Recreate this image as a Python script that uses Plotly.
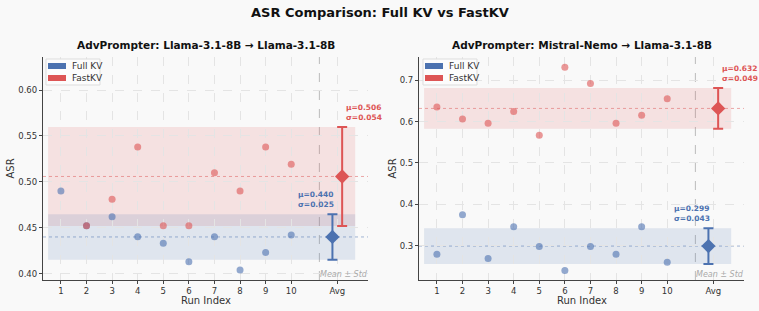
import numpy as np
import plotly.graph_objects as go

runs = list(range(1, 11))
run_labels = [str(r) for r in runs]
avg_label = "Avg"

left_title = "AdvPrompter: Llama-3.1-8B → Llama-3.1-8B"
left_full = [0.490, 0.452, 0.462, 0.440, 0.433, 0.413, 0.440, 0.404, 0.423, 0.442]
left_fast = [0.626, 0.452, 0.481, 0.538, 0.452, 0.452, 0.510, 0.490, 0.538, 0.519]
left_yticks = [0.40, 0.45, 0.50, 0.55, 0.60]

right_title = "AdvPrompter: Mistral-Nemo → Llama-3.1-8B"
right_full = [0.279, 0.375, 0.269, 0.346, 0.298, 0.240, 0.298, 0.279, 0.346, 0.260]
right_fast = [0.635, 0.606, 0.596, 0.624, 0.567, 0.731, 0.692, 0.596, 0.615, 0.655]
right_yticks = [0.3, 0.4, 0.5, 0.6, 0.7]

BLUE = "#4C72B0"
RED = "#DD5555"
BG = "#F9F9F9"
W, H = 759, 311
FONT = "DejaVu Sans"

AVG_X = 11.8
SEP_X = 11.1
OFF = 0.19

fig = go.Figure()

panels = [
    dict(title=left_title, full=left_full, fast=left_fast, yticks=left_yticks,
         yfmt="{:.2f}", yrange=[0.393, 0.636], xa="x", ya="y",
         dom=[43 / W, 368 / W], legx=46),
    dict(title=right_title, full=right_full, fast=right_fast, yticks=right_yticks,
         yfmt="{:.1f}", yrange=[0.217, 0.756], xa="x2", ya="y2",
         dom=[419 / W, 744 / W], legx=423),
]

ydom = [(311 - 280) / H, (311 - 57) / H]
shapes = []
annots = []

for i, p in enumerate(panels):
    xa, ya = p["xa"], p["ya"]
    full = np.array(p["full"]); fast = np.array(p["fast"])
    mf, sf = full.mean(), full.std(ddof=1)
    mk, sk = fast.mean(), fast.std(ddof=1)
    xdref = xa + " domain"
    # bands
    for m, s, c in [(mk, sk, "rgba(221,85,85,0.15)"), (mf, sf, "rgba(76,114,176,0.15)")]:
        shapes.append(dict(type="rect", xref=xa, yref=ya, x0=0.5, x1=12.5, y0=m - s, y1=m + s,
                           fillcolor=c, line=dict(width=0), layer="below"))
    # mean lines
    for m, c in [(mk, "rgba(221,85,85,0.5)"), (mf, "rgba(76,114,176,0.5)")]:
        shapes.append(dict(type="line", xref=xdref, yref=ya, x0=0, x1=1, y0=m, y1=m,
                           line=dict(color=c, width=1, dash="dot"), layer="below"))
    # separator
    shapes.append(dict(type="line", xref=xa, yref=ya + " domain", x0=SEP_X, x1=SEP_X, y0=0, y1=1,
                       line=dict(color="#BBBBBB", width=1, dash="dash"), layer="below"))
    # points
    fig.add_trace(go.Scatter(x=runs, y=p["full"], mode="markers", xaxis=xa, yaxis=ya,
                             marker=dict(color=BLUE, size=7, opacity=0.6, line=dict(width=0)),
                             showlegend=False, cliponaxis=False))
    fig.add_trace(go.Scatter(x=runs, y=p["fast"], mode="markers", xaxis=xa, yaxis=ya,
                             marker=dict(color=RED, size=7, opacity=0.6, line=dict(width=0)),
                             showlegend=False))
    # avg diamonds with error bars
    fig.add_trace(go.Scatter(x=[AVG_X - OFF], y=[mf], mode="markers", xaxis=xa, yaxis=ya,
                             marker=dict(color=BLUE, size=11, symbol="diamond"),
                             error_y=dict(type="data", array=[sf], color=BLUE, thickness=2, width=5),
                             showlegend=False))
    fig.add_trace(go.Scatter(x=[AVG_X + OFF], y=[mk], mode="markers", xaxis=xa, yaxis=ya,
                             marker=dict(color=RED, size=11, symbol="diamond"),
                             error_y=dict(type="data", array=[sk], color=RED, thickness=2, width=5),
                             showlegend=False))
    # stat annotations
    annots.append(dict(xref=xa, yref=ya, x=AVG_X + OFF, y=mk + sk, xanchor="left", yanchor="bottom",
                       xshift=2, yshift=3, showarrow=False, align="left",
                       text=f"<b>μ={mk:.3f}<br>σ={sk:.3f}</b>",
                       font=dict(family=FONT, size=7.5, color=RED)))
    annots.append(dict(xref=xa, yref=ya, x=AVG_X - OFF, y=mf + sf, xanchor="right", yanchor="bottom",
                       xshift=4, yshift=3, showarrow=False, align="left",
                       text=f"<b>μ={mf:.3f}<br>σ={sf:.3f}</b>",
                       font=dict(family=FONT, size=7.5, color=BLUE)))
    annots.append(dict(xref=xa, yref=ya + " domain", x=SEP_X, y=0, xanchor="left", yanchor="bottom",
                       xshift=-1, yshift=-1, showarrow=False, text="<i>Mean ± Std</i>",
                       font=dict(family=FONT, size=8, color="#AAAAAA")))
    # subplot title
    cx = (p["dom"][0] + p["dom"][1]) / 2
    annots.append(dict(xref="paper", yref="paper", x=cx, y=1 - 45 / H, xanchor="center", yanchor="middle",
                       showarrow=False, text=f"<b>{p['title']}</b>",
                       font=dict(family=FONT, size=10.5, color="#111111")))
    # axis labels
    annots.append(dict(xref="paper", yref="paper", x=cx, y=1 - 300 / H, xanchor="center", yanchor="middle",
                       showarrow=False, text="Run Index",
                       font=dict(family=FONT, size=10, color="#333333")))
    lx = (10 if i == 0 else 392) / W
    annots.append(dict(xref="paper", yref="paper", x=lx, y=(ydom[0] + ydom[1]) / 2, xanchor="center",
                       yanchor="middle", textangle=-90, showarrow=False, text="ASR",
                       font=dict(family=FONT, size=10, color="#333333")))
    # legend box (manual, drawn above points)
    bx = p["legx"]
    shapes.append(dict(type="rect", xref="paper", yref="paper", x0=bx / W, x1=(bx + 54) / W,
                       y0=1 - 85 / H, y1=1 - 59 / H, fillcolor="rgba(252,252,252,0.95)",
                       line=dict(color="#DDDDDD", width=1), layer="above"))
    for j, (lab, c) in enumerate([("Full KV", BLUE), ("FastKV", RED)]):
        yc = 66 + j * 12
        shapes.append(dict(type="rect", xref="paper", yref="paper", x0=(bx + 2) / W, x1=(bx + 20) / W,
                           y0=1 - (yc + 3) / H, y1=1 - (yc - 3) / H, fillcolor=c,
                           line=dict(width=0), layer="above"))
        annots.append(dict(xref="paper", yref="paper", x=(bx + 24) / W, y=1 - yc / H, xanchor="left",
                           yanchor="middle", showarrow=False, text=lab,
                           font=dict(family=FONT, size=9, color="#333333")))

    axis_common = dict(showline=True, linecolor="#444444", linewidth=1.2, mirror=False,
                       ticks="outside", ticklen=3, tickcolor="#444444",
                       tickfont=dict(family=FONT, size=8.5, color="#333333"),
                       showgrid=True, gridcolor="#E4E4E4", griddash="dash", gridwidth=0.8, zeroline=False)
    xkey = "xaxis" if i == 0 else "xaxis2"
    ykey = "yaxis" if i == 0 else "yaxis2"
    fig.update_layout(**{
        xkey: dict(domain=p["dom"], anchor=ya, range=[0.3, 13.0],
                   tickvals=runs + [AVG_X], ticktext=run_labels + [avg_label], **axis_common),
        ykey: dict(domain=ydom, anchor=xa, range=p["yrange"],
                   tickvals=p["yticks"], ticktext=[p["yfmt"].format(v) for v in p["yticks"]],
                   **axis_common),
    })

annots.append(dict(xref="paper", yref="paper", x=0.5, y=1 - 12 / H, xanchor="center", yanchor="middle",
                   showarrow=False, text="<b>ASR Comparison: Full KV vs FastKV</b>",
                   font=dict(family=FONT, size=13, color="#111111")))

fig.update_layout(width=W, height=H, autosize=False, margin=dict(l=0, r=0, t=0, b=0),
                  paper_bgcolor=BG, plot_bgcolor=BG, shapes=shapes, annotations=annots,
                  showlegend=False, font=dict(family=FONT))
fig.write_html("out.html")
